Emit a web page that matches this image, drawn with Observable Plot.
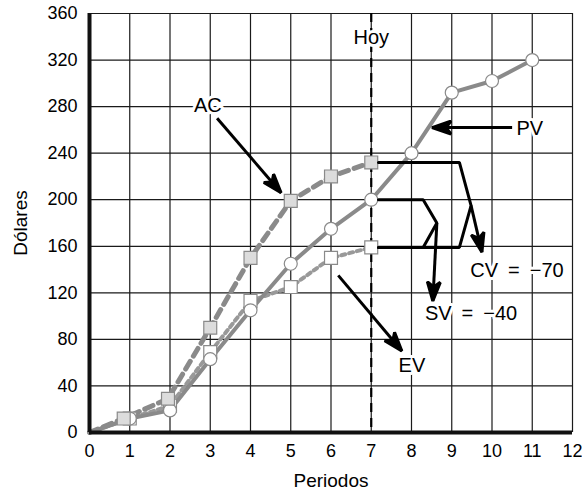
<!DOCTYPE html>
<html><head><meta charset="utf-8">
<script src="https://cdn.jsdelivr.net/npm/d3@7"></script>
<script src="https://cdn.jsdelivr.net/npm/@observablehq/plot@0.6"></script>
<style>
body{margin:0;background:#fff;}
#chart svg{display:block;}
</style></head><body><div id="chart"></div>
<script>
// ---- data ----
const xTicks = [0,1,2,3,4,5,6,7,8,9,10,11,12];
const yTicks = [0,40,80,120,160,200,240,280,320,360];

const pvPeriods = [0,1,2,3,4,5,6,7,8,9,10,11];
const pvValues  = [0,12,19,63,105,145,175,200,240,292,302,320];

const acPeriods = [0,0.85,1.95,3,4,5,6,7];
const acValues  = [0,12,29,90,150,199,220,232];

const evPeriods = [0,1,2,3,4,5,6,7];
const evValues  = [0,12,23,69,113,125,150,159];

const todayPeriod = [7];

const labelTexts = ["Hoy","AC","PV","EV","CV\u2002=\u2002−70","SV\u2002=\u2002−40"];
const labelX = [7, 2.94, 10.94, 8.01, 10.62, 9.48];
const labelY = [339, 281, 261, 57.5, 139, 102];

// annotation arrows: AC, PV, EV, CV, SV
const arrowX1 = [3.17, 10.50, 6.18, 9.48, 8.63];
const arrowY1 = [270, 262, 135, 195, 180];
const arrowX2 = [4.76, 8.51, 7.76, 9.75, 8.53];
const arrowY2 = [206, 262, 70, 155, 113];

const cvBracketX = [7.18, 9.19, 9.48, 9.19, 7.18];
const cvBracketY = [232, 232, 195, 159, 159];
const svBracketX = [7.18, 8.29, 8.63, 8.29, 7.18];
const svBracketY = [200, 200, 180, 159, 159];

// ---- styles ----
const grayLine = "#8a8a8a";
const font = "'Liberation Sans', Arial, Helvetica, sans-serif";

function arrowHead(color) {
  const m = d3.create("svg:marker")
    .attr("viewBox", "-20 -8 22 16")
    .attr("markerWidth", 22).attr("markerHeight", 16)
    .attr("markerUnits", "userSpaceOnUse")
    .attr("refX", 0).attr("refY", 0)
    .attr("orient", "auto");
  m.append("path").attr("d", "M0,0 L-19,-6.5 L-14,0 L-19,6.5 Z").attr("fill", color);
  return m.node();
}

let arrowMark;
try {
  arrowMark = Plot.link(arrowX1, {x1: arrowX1, y1: arrowY1, x2: arrowX2, y2: arrowY2,
    stroke: "black", strokeWidth: 3, markerEnd: arrowHead});
} catch (e) {
  arrowMark = Plot.arrow(arrowX1, {x1: arrowX1, y1: arrowY1, x2: arrowX2, y2: arrowY2,
    stroke: "black", strokeWidth: 3, headLength: 14});
}

const chart = Plot.plot({
  width: 582,
  height: 490,
  marginLeft: 89,
  marginRight: 10,
  marginTop: 13,
  marginBottom: 58,
  style: {fontFamily: font, fontSize: "18px", color: "black", background: "white"},
  x: {domain: [0, 12]},
  y: {domain: [0, 360]},
  marks: [
    Plot.gridX(xTicks, {stroke: "#1a1a1a", strokeOpacity: 1, strokeWidth: 1.2}),
    Plot.gridY(yTicks, {stroke: "#1a1a1a", strokeOpacity: 1, strokeWidth: 1.2}),
    Plot.axisX(xTicks, {tickSize: 0, tickPadding: 12, fontSize: 18, label: null}),
    Plot.axisX({ticks: [], tickSize: 0, fontSize: 19, label: "Periodos",
      labelAnchor: "center", labelArrow: "none", labelOffset: 54}),
    Plot.axisY(yTicks, {tickSize: 0, tickPadding: 12, fontSize: 18, label: null}),
    Plot.axisY({ticks: [], tickSize: 0, fontSize: 19, label: "Dólares",
      labelAnchor: "center", labelArrow: "none", labelOffset: 76}),
    Plot.ruleX(todayPeriod, {stroke: "black", strokeWidth: 2.2, strokeDasharray: "9,6"}),
    // series lines
    Plot.line(evValues, {x: evPeriods, y: evValues, stroke: "#999", strokeWidth: 4, strokeDasharray: "4,4"}),
    Plot.line(acValues, {x: acPeriods, y: acValues, stroke: grayLine, strokeWidth: 5, strokeDasharray: "9,6"}),
    Plot.line(pvValues, {x: pvPeriods, y: pvValues, stroke: grayLine, strokeWidth: 4}),
    // markers
    Plot.dot(evValues, {x: evPeriods, y: evValues, filter: (d, i) => i > 0, symbol: "square", r: 7.3,
      fill: "white", stroke: "#8a8a8a", strokeWidth: 1.2}),
    Plot.dot(pvValues, {x: pvPeriods, y: pvValues, filter: (d, i) => i > 0, r: 6.5,
      fill: "white", stroke: "#8a8a8a", strokeWidth: 1.2}),
    Plot.dot(acValues, {x: acPeriods, y: acValues, filter: (d, i) => i > 0, symbol: "square", r: 7.3,
      fill: "#dcdcdc", stroke: "#8a8a8a", strokeWidth: 1.2}),
    // brackets
    Plot.line(cvBracketX, {x: cvBracketX, y: cvBracketY, stroke: "black", strokeWidth: 3, strokeLinejoin: "miter"}),
    Plot.line(svBracketX, {x: svBracketX, y: svBracketY, stroke: "black", strokeWidth: 3, strokeLinejoin: "miter"}),
    arrowMark,
    // frame axes
    Plot.ruleX([0], {stroke: "#111", strokeWidth: 4}),
    Plot.ruleY([0], {stroke: "#111", strokeWidth: 4}),
    // labels
    Plot.text(labelTexts, {x: labelX, y: labelY, text: labelTexts, fontSize: 20, fill: "black",
      stroke: "white", strokeWidth: 6, paintOrder: "stroke"})
  ]
});
document.getElementById("chart").appendChild(chart);
</script>
</body></html>
